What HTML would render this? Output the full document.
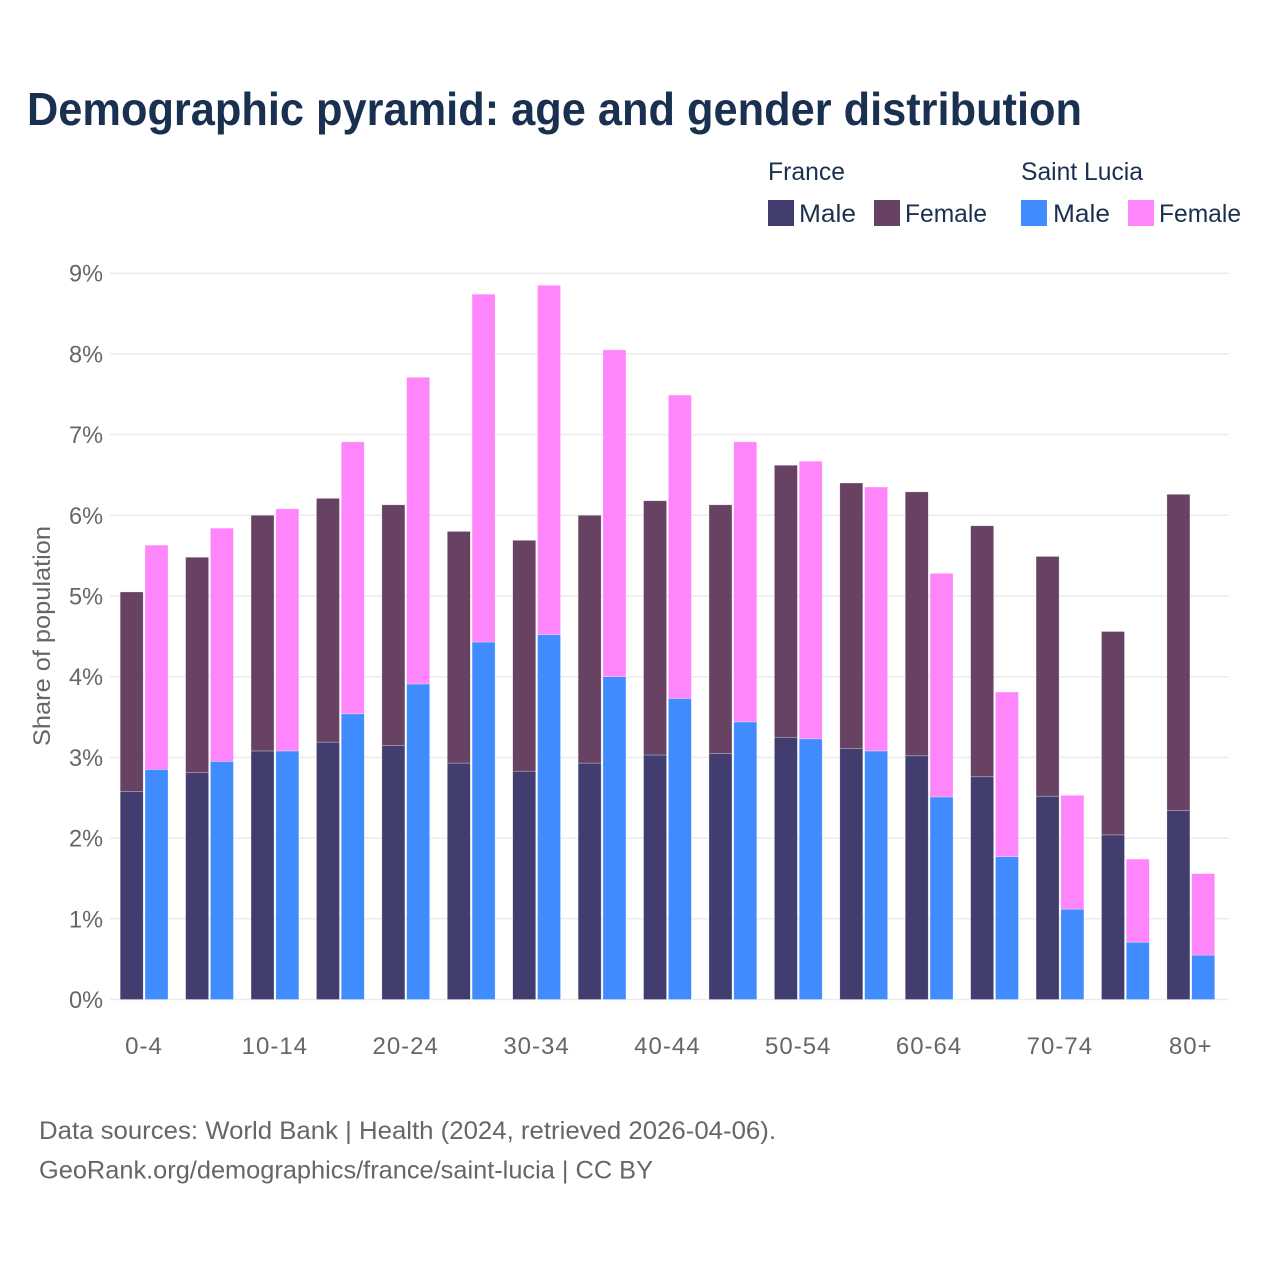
<!DOCTYPE html>
<html>
<head>
<meta charset="utf-8">
<style>
html,body{margin:0;padding:0;background:#fff;}
svg{display:block;}
text{font-family:"Liberation Sans",sans-serif;}
</style>
</head>
<body>
<svg id="chart" width="1280" height="1280" viewBox="0 0 1280 1280" xmlns="http://www.w3.org/2000/svg">
<rect width="1280" height="1280" fill="#fff"/>
<text x="27" y="125" font-size="46" font-weight="700" fill="#1a3050" textLength="1055" lengthAdjust="spacingAndGlyphs">Demographic pyramid: age and gender distribution</text>
<g font-size="25" fill="#1a3050">
<text x="768" y="180" textLength="77" lengthAdjust="spacingAndGlyphs">France</text>
<text x="1021" y="180" textLength="122" lengthAdjust="spacingAndGlyphs">Saint Lucia</text>
<rect x="768" y="200" width="26" height="26" fill="#413e6f"/>
<text x="799" y="222" textLength="57" lengthAdjust="spacingAndGlyphs">Male</text>
<rect x="874" y="200" width="26" height="26" fill="#674262"/>
<text x="905" y="222" textLength="82" lengthAdjust="spacingAndGlyphs">Female</text>
<rect x="1021" y="200" width="26" height="26" fill="#408cff"/>
<text x="1053" y="222" textLength="57" lengthAdjust="spacingAndGlyphs">Male</text>
<rect x="1128" y="200" width="26" height="26" fill="#ff85fa"/>
<text x="1159" y="222" textLength="82" lengthAdjust="spacingAndGlyphs">Female</text>
</g>
<g id="grid"></g>
<g id="bars"></g>
<g id="yticks"></g>
<g id="xticks"></g>
<text transform="translate(50,636) rotate(-90)" text-anchor="middle" font-size="24" fill="#666" textLength="220" lengthAdjust="spacingAndGlyphs">Share of population</text>
<text x="39" y="1139" font-size="25" fill="#666" textLength="737" lengthAdjust="spacingAndGlyphs">Data sources: World Bank | Health (2024, retrieved 2026-04-06).</text>
<text x="39" y="1178.5" font-size="25" fill="#666" textLength="614" lengthAdjust="spacingAndGlyphs">GeoRank.org/demographics/france/saint-lucia | CC BY</text>
</svg>
<script>
const ageGroups = ["0-4","5-9","10-14","15-19","20-24","25-29","30-34","35-39","40-44","45-49","50-54","55-59","60-64","65-69","70-74","75-79","80+"];
const xTickLabels = ["0-4","","10-14","","20-24","","30-34","","40-44","","50-54","","60-64","","70-74","","80+"];
const yTickValues = [0,1,2,3,4,5,6,7,8,9];
const franceMale = [2.58,2.81,3.08,3.19,3.15,2.93,2.83,2.93,3.03,3.05,3.25,3.11,3.02,2.76,2.52,2.04,2.34];
const franceFemale = [2.47,2.67,2.92,3.02,2.98,2.87,2.86,3.07,3.15,3.08,3.37,3.29,3.27,3.11,2.97,2.52,3.92];
const saintLuciaMale = [2.85,2.95,3.08,3.54,3.91,4.43,4.52,4.00,3.73,3.44,3.23,3.08,2.51,1.77,1.12,0.71,0.55];
const saintLuciaFemale = [2.78,2.89,3.00,3.37,3.80,4.31,4.33,4.05,3.76,3.47,3.44,3.27,2.77,2.04,1.41,1.03,1.01];

const NS = "http://www.w3.org/2000/svg";
const yScale = v => 999.5 - v * 80.7;
const groupCenter = i => 144 + i * 65.42;
const barWidth = 23;

function make(tag, parent, attrs) {
  const el = document.createElementNS(NS, tag);
  for (const k in attrs) el.setAttribute(k, attrs[k]);
  parent.appendChild(el);
  return el;
}

const grid = document.getElementById("grid");
const yticks = document.getElementById("yticks");
yTickValues.forEach(v => {
  const line = make("line", grid, {x1: 110, x2: 1229, y1: yScale(v), y2: yScale(v), stroke: "#ececec", "stroke-width": 1.5});
  
  
  const t = make("text", yticks, {x: 103, y: yScale(v) + 8.5, "text-anchor": "end", "font-size": 24, fill: "#666", textLength: 34, lengthAdjust: "spacingAndGlyphs"});
  t.textContent = v + "%";
  
  
});

const xticks = document.getElementById("xticks");
xTickLabels.forEach((label, i) => {
  if (!label) return;
  const t = make("text", xticks, {x: groupCenter(i), y: 1054, "text-anchor": "middle", "font-size": 24, fill: "#666", "letter-spacing": 1});
  t.textContent = label;
  
  
});

const bars = document.getElementById("bars");
function drawSegment(x, low, high, color) {
  const top = yScale(high);
  const r = make("rect", bars, {x: x, y: top, width: barWidth, height: yScale(low) - top, fill: color, stroke: "#fff", "stroke-opacity": 0.45, "stroke-width": 0.6});
  return r;
}
ageGroups.forEach((age, i) => {
  const c = groupCenter(i);
  const a = drawSegment(c - barWidth - 0.8, 0, franceMale[i], "#413e6f");
  
  
  const b = drawSegment(c - barWidth - 0.8, franceMale[i], franceMale[i] + franceFemale[i], "#674262");
  
  
  const d = drawSegment(c + 1, 0, saintLuciaMale[i], "#408cff");
  
  
  const e = drawSegment(c + 1, saintLuciaMale[i], saintLuciaMale[i] + saintLuciaFemale[i], "#ff85fa");
  
  
});
</script>
</body>
</html>
